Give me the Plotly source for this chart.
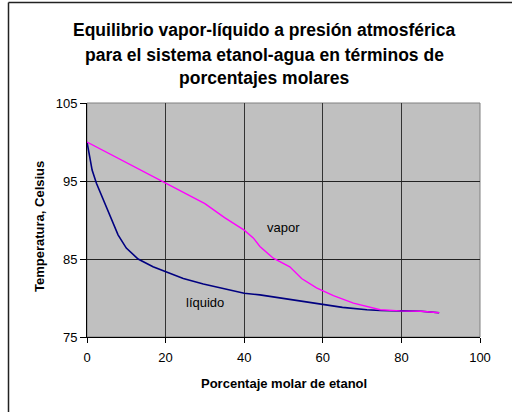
import plotly.graph_objects as go

vapor_x = [0, 5, 10, 15, 20, 25, 30, 35, 40, 42.3, 44, 47.4, 51.6, 54.6, 58.4, 62.7, 67.8, 74.6, 79.7, 85, 89.6]
vapor_y = [100, 98.7, 97.4, 96.1, 94.7, 93.4, 92.1, 90.3, 88.7, 87.7, 86.6, 85.1, 84.0, 82.5, 81.3, 80.3, 79.35, 78.5, 78.35, 78.3, 78.1]

liquido_x = [0, 0.7, 1.3, 2.4, 4.1, 6.2, 7.9, 10, 13, 16.8, 20, 24.5, 29.6, 35.5, 40, 44, 49.1, 55, 60.1, 65, 71.2, 74.6, 80, 85, 89.6]
liquido_y = [100, 98.1, 96.4, 94.7, 92.6, 90.0, 88.1, 86.4, 85.0, 84.0, 83.4, 82.5, 81.8, 81.1, 80.6, 80.4, 80.0, 79.5, 79.1, 78.8, 78.5, 78.4, 78.35, 78.3, 78.1]

title_lines = ["Equilibrio vapor-líquido a presión atmosférica",
               "para el sistema etanol-agua en términos de",
               "porcentajes molares"]
x_title = "Porcentaje molar de etanol"
y_title = "Temperatura, Celsius"

W, H = 512, 412
L, R, T, B = 87, 32, 103, 75
pw, ph = W - L - R, H - T - B

def px(x):
    return (x - L) / pw

def py(y):
    return 1 - (y - T) / ph

FONT = "Liberation Sans, Arial, sans-serif"

fig = go.Figure()
fig.add_trace(go.Scatter(x=liquido_x, y=liquido_y, mode="lines",
                         line=dict(color="#000080", width=1.6), name="líquido"))
fig.add_trace(go.Scatter(x=vapor_x, y=vapor_y, mode="lines",
                         line=dict(color="#FF00FF", width=1.4), name="vapor"))

annotations = []
for line, yc in zip(title_lines, [30, 55, 78]):
    annotations.append(dict(text="<b>%s</b>" % line, xref="paper", yref="paper",
                            x=px(264), y=py(yc), showarrow=False,
                            xanchor="center", yanchor="middle",
                            font=dict(family=FONT, size=17.5, color="black")))
annotations.append(dict(text="<b>%s</b>" % x_title, xref="paper", yref="paper",
                        x=px(284), y=py(383), showarrow=False,
                        xanchor="center", yanchor="middle",
                        font=dict(family=FONT, size=13, color="black")))
annotations.append(dict(text="<b>%s</b>" % y_title, xref="paper", yref="paper",
                        x=px(39), y=py(227), showarrow=False, textangle=-90,
                        xanchor="center", yanchor="middle",
                        font=dict(family=FONT, size=13, color="black")))
annotations.append(dict(text="vapor", x=50, y=89.1, xref="x", yref="y", showarrow=False,
                        font=dict(family=FONT, size=13, color="black")))
annotations.append(dict(text="líquido", x=30, y=79.4, xref="x", yref="y", showarrow=False,
                        font=dict(family=FONT, size=13, color="black")))

shapes = [
    dict(type="line", xref="paper", yref="paper", x0=px(8.5), x1=px(8.5), y0=py(2.5), y1=py(430),
         line=dict(color="#222", width=1.5)),
    dict(type="line", xref="paper", yref="paper", x0=px(8.5), x1=px(530), y0=py(2.5), y1=py(2.5),
         line=dict(color="#222", width=1.5)),
    dict(type="rect", xref="paper", yref="paper", x0=0, x1=1, y0=0, y1=1,
         line=dict(color="#808080", width=1), layer="below"),
]

fig.update_layout(
    width=W, height=H,
    margin=dict(l=L, r=R, t=T, b=B),
    paper_bgcolor="white",
    plot_bgcolor="#C0C0C0",
    showlegend=False,
    annotations=annotations,
    shapes=shapes,
    font=dict(family=FONT, color="black"),
)
fig.update_xaxes(range=[0, 100], tick0=0, dtick=20, showgrid=True, gridcolor="#333333", gridwidth=1,
                 zeroline=False, showline=True, linecolor="black", linewidth=1,
                 ticks="outside", ticklen=5, tickcolor="black", automargin=False,
                 ticklabelstandoff=3,
                 tickfont=dict(family=FONT, size=13))
fig.update_yaxes(range=[75, 105], tick0=75, dtick=10, showgrid=True, gridcolor="#222222", gridwidth=1,
                 zeroline=False, showline=True, linecolor="black", linewidth=1,
                 ticks="outside", ticklen=6, tickcolor="black", automargin=False,
                 tickfont=dict(family=FONT, size=13))

fig.write_html("out.html", config={"displayModeBar": False},
               post_script="document.body.style.margin='0';document.body.style.overflow='hidden';")
